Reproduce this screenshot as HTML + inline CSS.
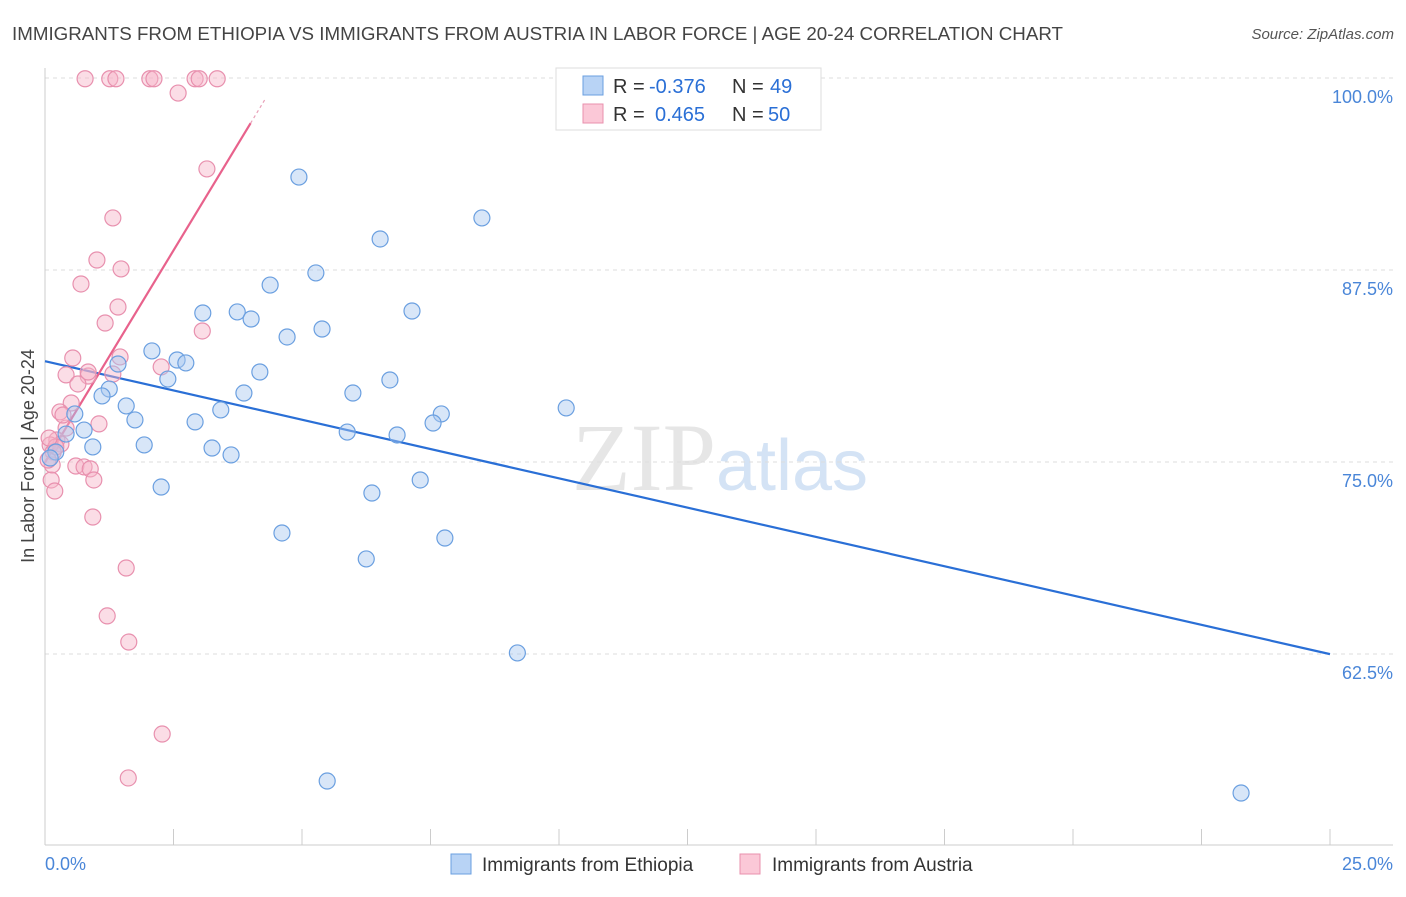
<!DOCTYPE html>
<html><head><meta charset="utf-8"><style>
body{margin:0;background:#fff;width:1406px;height:892px;overflow:hidden;font-family:"Liberation Sans",sans-serif}
</style></head><body>
<svg id="chart" width="1406" height="892" xmlns="http://www.w3.org/2000/svg" font-family="Liberation Sans, sans-serif">
<text x="12" y="40" font-size="18" fill="#444" textLength="1051" lengthAdjust="spacingAndGlyphs">IMMIGRANTS FROM ETHIOPIA VS IMMIGRANTS FROM AUSTRIA IN LABOR FORCE | AGE 20-24 CORRELATION CHART</text>
<text x="1394" y="39" font-size="15" fill="#555" text-anchor="end" font-style="italic">Source: ZipAtlas.com</text>
<text x="720" y="490" font-size="96" text-anchor="middle" fill="#e6e6e6" font-family="Liberation Serif, serif">ZIP<tspan fill="#d4e3f5" font-family="Liberation Sans, sans-serif" font-size="72">atlas</tspan></text>
<g id="grid"></g><g id="axes"></g><g id="lines"></g><g id="pts"></g>
<text transform="translate(34,456) rotate(-90)" font-size="18" fill="#444" text-anchor="middle">In Labor Force | Age 20-24</text>
<g font-size="20">
<rect x="556" y="68" width="265" height="62" fill="#fff" stroke="#ddd"/>
<rect x="583" y="76" width="20" height="19" fill="#b8d3f5" stroke="#6a9fe0"/>
<rect x="583" y="104" width="20" height="19" fill="#fbc8d7" stroke="#e890ae"/>
<text x="613" y="93" fill="#333">R =</text><text x="649" y="93" fill="#2a6fd6">-0.376</text>
<text x="732" y="93" fill="#333">N =</text><text x="770" y="93" fill="#2a6fd6">49</text>
<text x="613" y="121" fill="#333">R =</text><text x="655" y="121" fill="#2a6fd6">0.465</text>
<text x="732" y="121" fill="#333">N =</text><text x="768" y="121" fill="#2a6fd6">50</text>
</g>
<g>
<rect x="451" y="854" width="20" height="20" fill="#b8d3f5" stroke="#6a9fe0"/>
<text x="482" y="871" font-size="19" fill="#333">Immigrants from Ethiopia</text>
<rect x="740" y="854" width="20" height="20" fill="#fbc8d7" stroke="#e890ae"/>
<text x="772" y="871" font-size="19" fill="#333">Immigrants from Austria</text>
</g>
</svg>
<script>
const blueX=[4.94,8.50,6.52,5.27,4.38,3.07,3.74,4.01,7.14,5.39,4.71,2.08,2.57,2.74,1.42,4.18,2.39,6.71,1.25,3.87,5.99,1.11,1.58,3.42,10.14,7.71,0.58,7.55,1.75,2.92,0.76,0.41,5.88,6.85,1.93,3.25,0.93,3.62,0.21,0.10,2.26,6.36,7.30,4.61,7.78,6.25,9.19,5.49,23.27];
const blueY=[93.55,90.89,89.52,87.31,86.52,84.70,84.77,84.31,84.83,83.66,83.14,82.23,81.64,81.45,81.38,80.86,80.40,80.34,79.75,79.49,79.49,79.30,78.65,78.39,78.52,78.13,78.13,77.54,77.74,77.61,77.08,76.82,76.95,76.76,76.11,75.91,75.98,75.46,75.65,75.26,73.37,72.98,73.83,70.38,70.05,68.69,62.57,54.23,53.45];
const pinkX=[0.78,1.26,1.38,2.04,2.12,2.92,3.00,3.35,2.59,3.15,1.32,1.01,1.48,0.70,1.42,1.17,3.06,0.54,1.46,2.26,0.41,0.84,0.64,1.32,0.51,0.29,1.05,0.41,0.23,0.31,0.10,0.16,0.60,0.76,0.88,0.95,0.12,0.19,0.93,1.58,1.21,1.63,2.28,1.62,0.14,0.21,0.35,0.08,0.06,0.84];
const pinkY=[99.95,99.95,99.95,99.95,99.95,99.95,99.95,99.95,99.02,94.08,90.89,88.15,87.57,86.59,85.09,84.05,83.53,81.77,81.84,81.19,80.67,80.60,80.08,80.73,78.84,78.26,77.48,77.21,76.43,76.17,76.11,75.65,74.74,74.68,74.55,73.83,73.83,73.11,71.42,68.10,64.98,63.28,57.29,54.43,74.81,75.98,78.06,76.56,75.13,80.86];
const yTicks=[100,87.5,75,62.5];
const yTickLabels=["100.0%","87.5%","75.0%","62.5%"];
const xTicks=[0,2.5,5,7.5,10,12.5,15,17.5,20,22.5,25];
const NS="http://www.w3.org/2000/svg";
const sx=v=>45+v*(1285/25), sy=v=>78+(100-v)*15.36;
function mk(t,a,p){const e=document.createElementNS(NS,t);for(const k in a)e.setAttribute(k,a[k]);document.getElementById(p).appendChild(e);return e;}
yTicks.forEach((t,i)=>{
 const g=mk('line',{x1:45,x2:1393,y1:sy(t),y2:sy(t),stroke:'#ddd','stroke-dasharray':'4,4'},'grid');
 
 
 const l=mk('text',{x:1393,y:sy(t)+25,'font-size':18,fill:'#4a86d8','text-anchor':'end'},'axes');l.textContent=yTickLabels[i];
 
 
});
mk('line',{x1:45,x2:45,y1:68,y2:845,stroke:'#ccc'},'axes');
mk('line',{x1:45,x2:1393,y1:845,y2:845,stroke:'#ccc'},'axes');
xTicks.forEach(t=>{const k=mk('line',{x1:sx(t),x2:sx(t),y1:845,y2:829,stroke:'#ccc'},'axes');
 
 });
let a=mk('text',{x:45,y:870,'font-size':18,fill:'#4a86d8'},'axes');a.textContent='0.0%';


a=mk('text',{x:1393,y:870,'font-size':18,fill:'#4a86d8','text-anchor':'end'},'axes');a.textContent='25.0%';


function reg(X,Y){const n=X.length;let mx=0,my=0;for(let i=0;i<n;i++){mx+=X[i];my+=Y[i];}mx/=n;my/=n;let sxy=0,sxx=0;for(let i=0;i<n;i++){sxy+=(X[i]-mx)*(Y[i]-my);sxx+=(X[i]-mx)**2;}const b=sxy/sxx;return [my-b*mx,b];}
function pts(X,Y,fill,stroke,name){X.forEach((x,i)=>{const c=mk('circle',{cx:sx(x),cy:sy(Y[i]),r:8,fill:fill,'fill-opacity':0.45,stroke:stroke,'stroke-width':1.2},'pts');
 
 });}
pts(pinkX,pinkY,'#f7b3c8','#e890ae','austria-point');
pts(blueX,blueY,'#a9c8f0','#6a9fe0','ethiopia-point');
let [ba,bb]=reg(blueX,blueY);
let bl=mk('line',{x1:sx(0),y1:sy(ba),x2:sx(25),y2:sy(ba+bb*25),stroke:'#2a6fd6','stroke-width':2.2},'lines');


let [pa,pb]=reg(pinkX,pinkY);
let xe=Math.min(4,(98.3-pa)/pb), xd=Math.min(4.3,(100-pa)/pb);
let pl=mk('line',{x1:sx(0),y1:sy(pa),x2:sx(xe),y2:sy(pa+pb*xe),stroke:'#e8628c','stroke-width':2.2},'lines');


let pd=mk('line',{x1:sx(xe),y1:sy(pa+pb*xe),x2:sx(xd),y2:sy(pa+pb*xd),stroke:'#e8a0b8','stroke-width':1.2,'stroke-dasharray':'3,3'},'lines');


</script>
</body></html>
